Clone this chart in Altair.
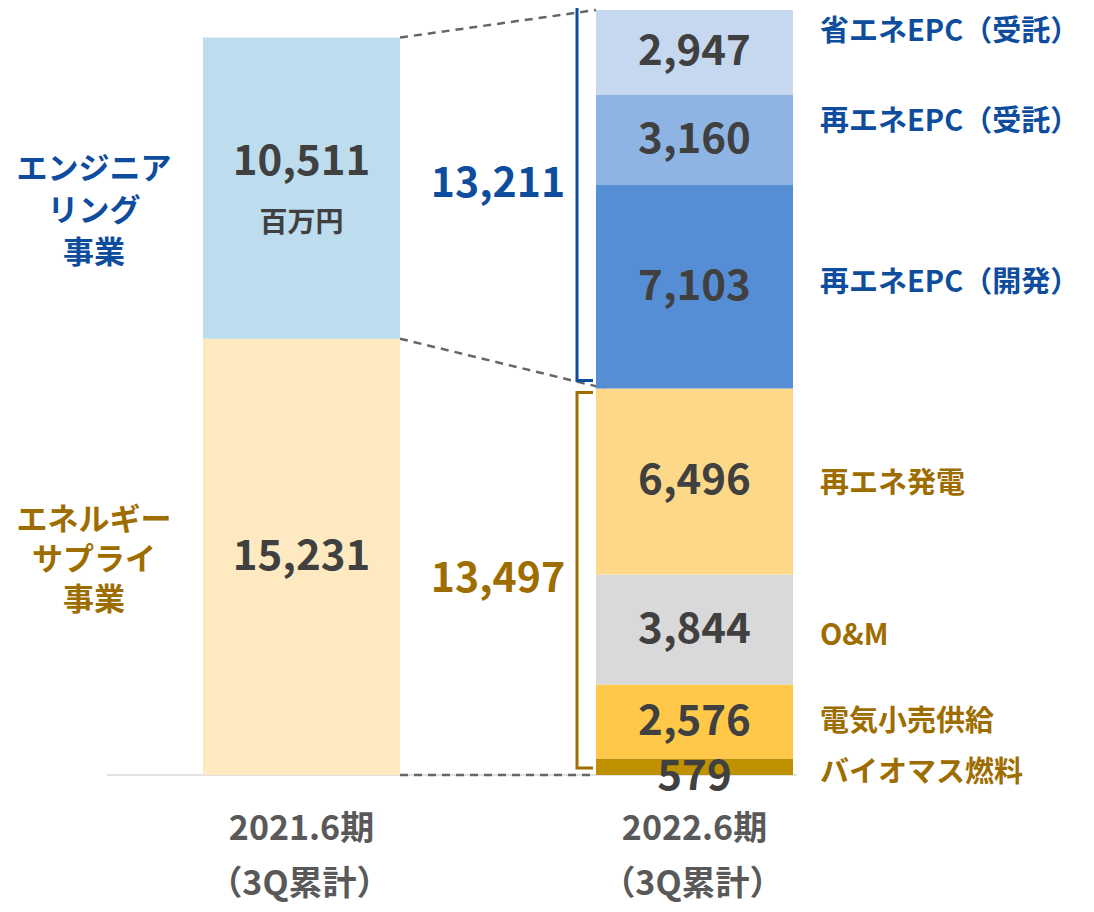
import altair as alt
import pandas as pd

# ---------------- data ----------------
periods = ["2021.6期", "2022.6期"]
period_sub = ["（3Q累計）", "（3Q累計）"]

left_segments = ["エネルギーサプライ事業", "エンジニアリング事業"]
left_values = [15231, 10511]
left_colors = ["#FFE9C0", "#BDDCEE"]

right_segments = ["バイオマス燃料", "電気小売供給", "O&M", "再エネ発電",
                  "再エネEPC（開発）", "再エネEPC（受託）", "省エネEPC（受託）"]
right_values = [579, 2576, 3844, 6496, 7103, 3160, 2947]
right_colors = ["#BF9000", "#FFC848", "#D9D9D9", "#FDD888",
                "#558ED5", "#8EB4E3", "#C6D8F0"]
right_groups = ["energy", "energy", "energy", "energy", "eng", "eng", "eng"]

group_keys = ["energy", "eng"]
group_lines = [["エネルギー", "サプライ", "事業"], ["エンジニア", "リング", "事業"]]
group_totals = [13497, 13211]
unit_label = "百万円"

BLUE = "#0E4C9E"
BROWN = "#9E6D00"
DARK = "#404040"
GREY_TXT = "#595959"
group_colors = {"energy": BROWN, "eng": BLUE}
FONT = "Noto Sans CJK JP"

# ---------------- layout ----------------
W, H = 1078, 896
BASE_Y = 775     # page y of value 0
TOP_Y = 10       # page y of right total
k = (BASE_Y - TOP_Y) / sum(right_values)   # px per unit
y_top = (BASE_Y - 8) / k
y_bot = -(8 + H - BASE_Y) / k


def px(page_x):
    return page_x - 8


def v_at(page_y):
    return (BASE_Y - page_y) / k


def shift(v, dpx):
    return v - dpx / k


LX0, LX1 = px(203), px(400)
RX0, RX1 = px(596), px(793)
LC, RC = (LX0 + LX1) / 2, (RX0 + RX1) / 2

xs = alt.Scale(domain=[0, W], nice=False, zero=False)
ys = alt.Scale(domain=[y_bot, y_top], nice=False, zero=False)


def X(f):
    return alt.X(f, type="quantitative", scale=xs, axis=None)


def Y(f):
    return alt.Y(f, type="quantitative", scale=ys, axis=None)


def C(f):
    return alt.Color(f, type="nominal", scale=None, legend=None)


# ---------------- bars ----------------
rows = []
cum = 0
for seg, val, col in zip(left_segments, left_values, left_colors):
    rows.append(dict(seg=seg, value=val, y0=cum, y1=cum + val, x0=LX0, x1=LX1, color=col, side="L"))
    cum += val
left_total = cum
cum = 0
for seg, val, col in zip(right_segments, right_values, right_colors):
    rows.append(dict(seg=seg, value=val, y0=cum, y1=cum + val, x0=RX0, x1=RX1, color=col, side="R"))
    cum += val
right_total = cum
bars_df = pd.DataFrame(rows)
bars_df["mid"] = (bars_df["y0"] + bars_df["y1"]) / 2

bars = alt.Chart(bars_df).mark_rect().encode(
    x=X("x0"), x2="x1:Q", y=Y("y0"), y2="y1:Q", color=C("color"),
)

# value labels
val_off = {"エンジニアリング事業": -26, "バイオマス燃料": 10}
vl = bars_df.copy()
vl["ty"] = [shift(m, val_off.get(s, 0)) for m, s in zip(vl["mid"], vl["seg"])]
vl["tx"] = [LC if sd == "L" else RC for sd in vl["side"]]
vl["label"] = [f"{v:,}" for v in vl["value"]]
value_text = alt.Chart(vl).mark_text(
    font=FONT, fontSize=42, fontWeight="bold", color=DARK, baseline="middle", align="center"
).encode(x=X("tx"), y=Y("ty"), text="label:N")

eng_mid_left = left_values[0] + left_values[1] / 2
unit_df = pd.DataFrame([dict(tx=LC, ty=shift(eng_mid_left, 36), label=unit_label)])
unit_text = alt.Chart(unit_df).mark_text(
    font=FONT, fontSize=28, fontWeight="bold", color=DARK, baseline="middle", align="center"
).encode(x=X("tx"), y=Y("ty"), text="label:N")

# right category names
cat_off = [6, 0, 6, 3, -4, -18, -20]
right_mid_list = list(bars_df[bars_df.side == "R"]["mid"])
cat_df = pd.DataFrame(dict(
    label=right_segments,
    tx=[px(820)] * len(right_segments),
    ty=[shift(m, o) for m, o in zip(right_mid_list, cat_off)],
    g=right_groups,
))
cat_layers = []
for g in group_keys:
    cat_layers.append(alt.Chart(cat_df[cat_df.g == g]).mark_text(
        font=FONT, fontSize=29, fontWeight="bold", baseline="middle", align="left",
        color=group_colors[g]
    ).encode(x=X("tx"), y=Y("ty"), text="label:N"))

# left group labels (y = first line)
left_mids = [left_values[0] / 2, left_values[0] + left_values[1] / 2]
grp_off = [-36, -18]
grp_lh = [40, 42]
grp_layers = []
for i, g in enumerate(group_keys):
    d = pd.DataFrame([dict(label="\n".join(group_lines[i]), tx=px(94),
                           ty=shift(left_mids[i], grp_off[i]))])
    grp_layers.append(alt.Chart(d).mark_text(
        font=FONT, fontSize=31, fontWeight="bold", baseline="middle", align="center",
        lineBreak="\n", lineHeight=grp_lh[i], color=group_colors[g]
    ).encode(x=X("tx"), y=Y("ty"), text="label:N"))

# group totals
energy_total = sum(v for v, g in zip(right_values, right_groups) if g == "energy")
right_mids = [energy_total / 2, energy_total + (right_total - energy_total) / 2]
tot_off = [-2, -14]
tot_layers = []
for i, g in enumerate(group_keys):
    d = pd.DataFrame([dict(label=f"{group_totals[i]:,}", tx=px(498),
                           ty=shift(right_mids[i], tot_off[i]))])
    tot_layers.append(alt.Chart(d).mark_text(
        font=FONT, fontSize=41, fontWeight="bold", baseline="middle", align="center",
        color=group_colors[g]
    ).encode(x=X("tx"), y=Y("ty"), text="label:N"))

# brackets
spans = {"energy": (shift(energy_total, 4), shift(0, -7)),
         "eng": (shift(right_total, -8), shift(energy_total, -8))}
bx_v, bx_t = px(577), px(593)
br_layers = []
for g in group_keys:
    top, bot = spans[g]
    d = pd.DataFrame([dict(o=i, bx=xx, by=yy) for i, (xx, yy) in
                      enumerate([(bx_t, top), (bx_v, top), (bx_v, bot), (bx_t, bot)])])
    br_layers.append(alt.Chart(d).mark_line(
        strokeWidth=3, strokeJoin="miter", strokeCap="butt", color=group_colors[g]
    ).encode(x=X("bx"), y=Y("by"), order="o:Q"))

# baseline + dashed connectors
base_df = pd.DataFrame([dict(x0=px(107), x1=px(797), y=0)])
baseline = alt.Chart(base_df).mark_rule(color="#D9D9D9", strokeWidth=1.5).encode(
    x=X("x0"), x2="x1:Q", y=Y("y"))

conn_df = pd.DataFrame([
    dict(x0=LX1, x1=RX0, y0=left_total, y1=right_total),
    dict(x0=LX1, x1=RX0 + 9, y0=left_values[0], y1=energy_total),
    dict(x0=LX1, x1=RX0, y0=0, y1=0),
])
connectors = alt.Chart(conn_df).mark_rule(color="#666666", strokeWidth=2.5, strokeDash=[8, 6]).encode(
    x=X("x0"), x2="x1:Q", y=Y("y0"), y2="y1:Q")

# period labels
per_df = pd.DataFrame(dict(
    label=periods + period_sub,
    tx=[LC, RC, LC - 2, RC - 2],
    ty=[v_at(830)] * 2 + [v_at(885)] * 2,
))
per_text = alt.Chart(per_df).mark_text(
    font=FONT, fontSize=34, fontWeight="bold", color=GREY_TXT, baseline="middle", align="center"
).encode(x=X("tx"), y=Y("ty"), text="label:N")

chart = alt.layer(
    baseline, connectors, bars, *br_layers, value_text, unit_text,
    *cat_layers, *grp_layers, *tot_layers, per_text
).properties(
    width=W, height=H, padding=0, autosize=alt.AutoSizeParams(type="none"), background="white"
).configure_view(stroke=None)

chart.save("out.html", embed_options={"renderer": "svg", "actions": False})
